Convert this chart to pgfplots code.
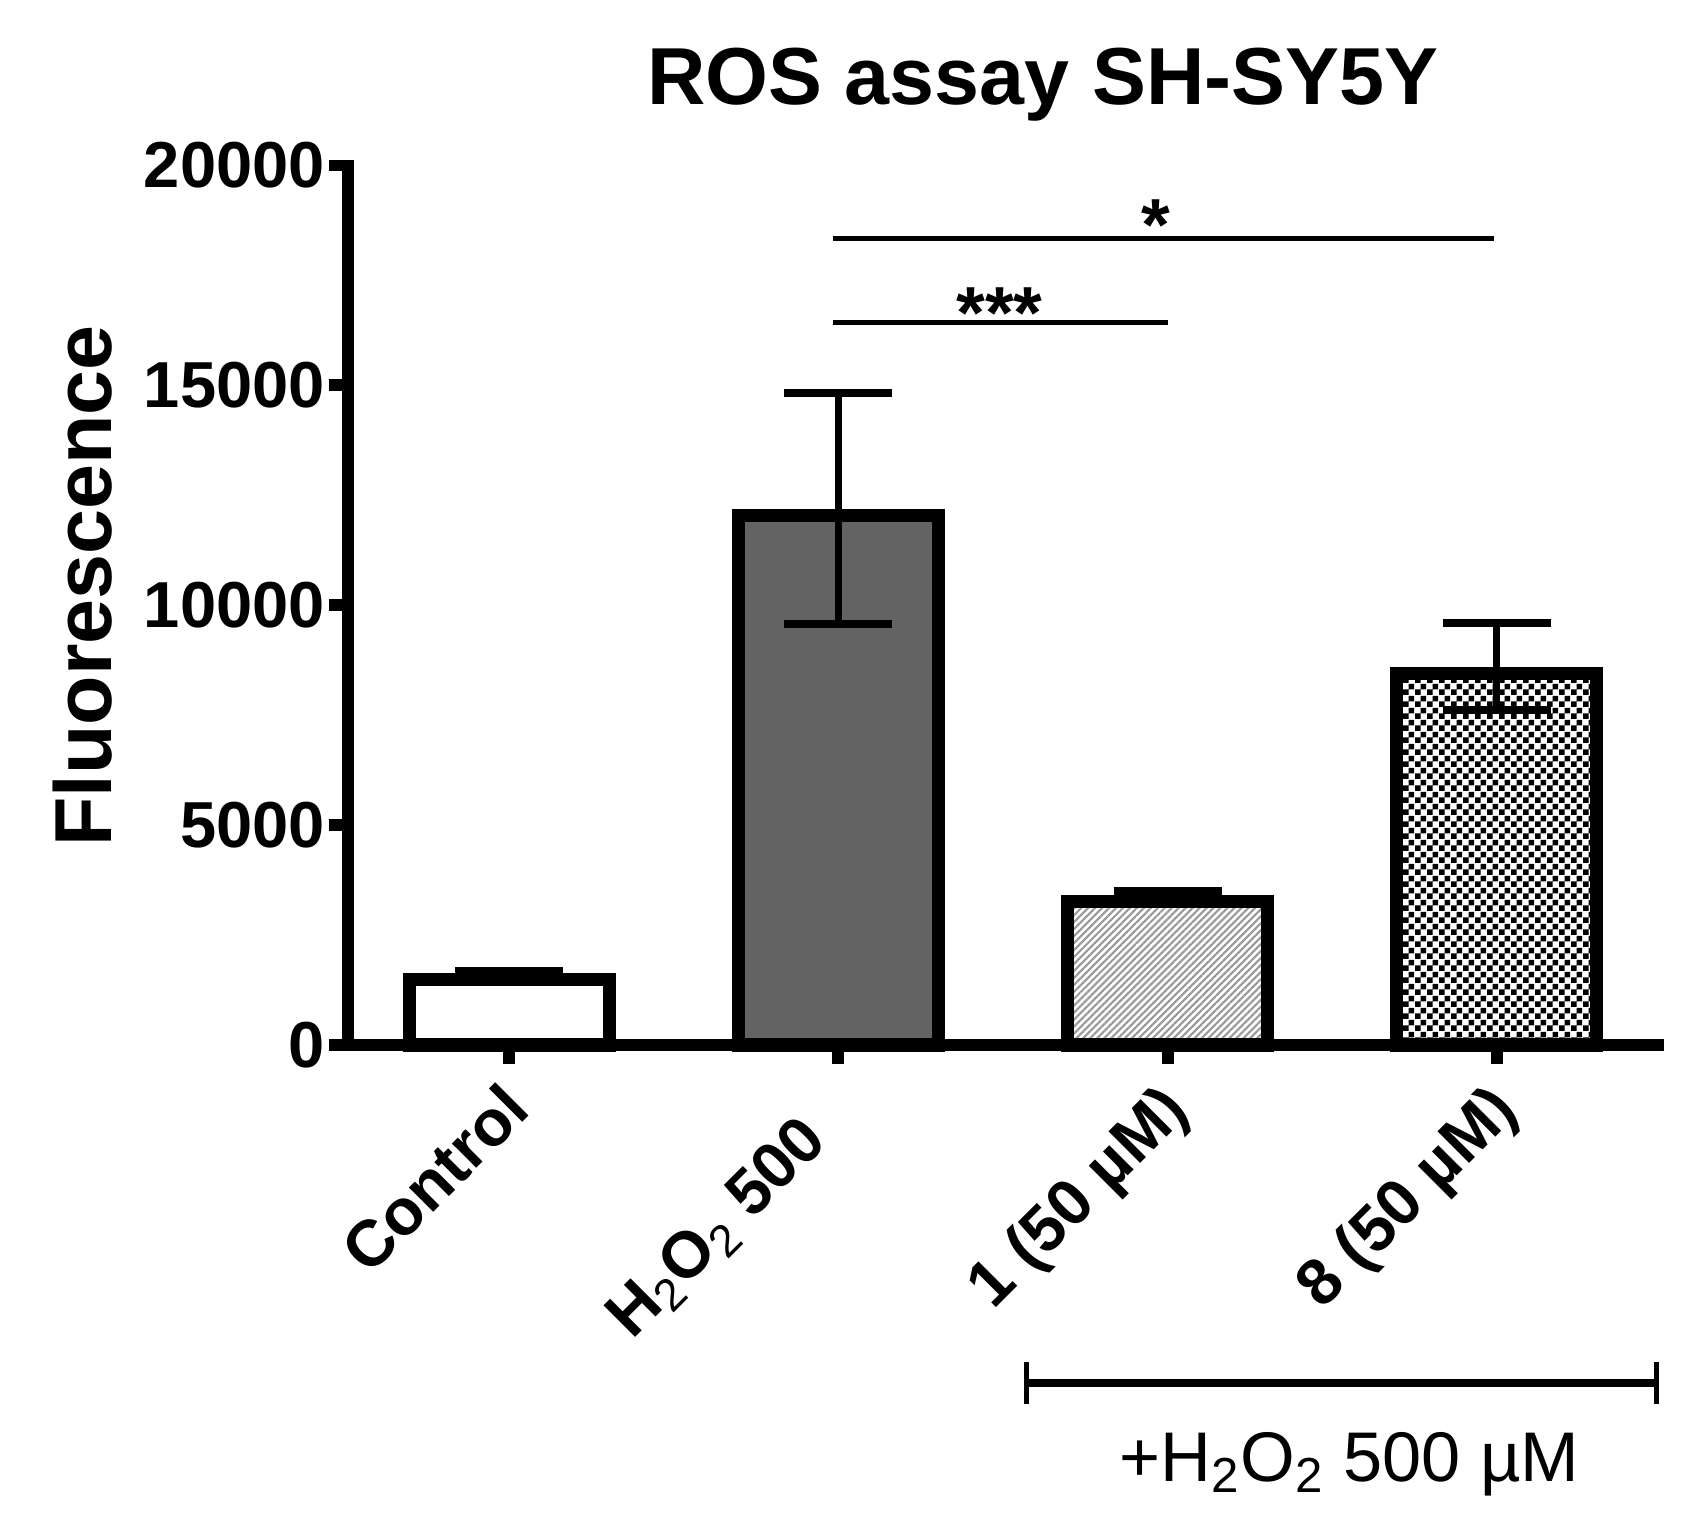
\documentclass[border=0pt]{standalone}
\usepackage{fontspec}
\setmainfont{Liberation Sans}
\usepackage{pgfplots}
\pgfplotsset{compat=1.18}
\usetikzlibrary{patterns,patterns.meta}
\pgfdeclarepatternformonly{checker}{\pgfpointorigin}{\pgfqpoint{3.3pt}{3.3pt}}{\pgfqpoint{3.3pt}{3.3pt}}{%
  \pgfpathrectangle{\pgfpointorigin}{\pgfqpoint{1.65pt}{1.65pt}}%
  \pgfpathrectangle{\pgfqpoint{1.65pt}{1.65pt}}{\pgfqpoint{1.65pt}{1.65pt}}%
  \pgfusepath{fill}}
\definecolor{darkbar}{gray}{0.39}
\begin{document}
\begin{tikzpicture}
\path[use as bounding box] (-34.8mm,-48.5mm) rectangle (134.6mm,104.5mm);
\begin{axis}[
  anchor=south west, at={(0,0)},
  scale only axis, width=131mm, height=87.95mm,
  xmin=-0.49, xmax=3.49, ymin=0, ymax=20000,
  scaled y ticks=false,
  axis x line*=bottom, axis y line*=left,
  axis line style={line width=3.4pt, -, line cap=rect},
  tick align=outside, major tick length=1.9mm,
  tick style={black, line width=3.4pt},
  xtick={0,1,2,3},
  xticklabels={Control, H\textsubscript{\mdseries 2}O\textsubscript{\mdseries 2} 500\hspace*{4.5mm}, 1 (50 µM), 8 (50 µM)},
  ytick={0,5000,10000,15000,20000},
  yticklabels={0,5000,10000,15000,20000},
  ticklabel style={font=\bfseries\fontsize{18.5}{22}\selectfont},
  yticklabel style={inner sep=1pt},
  xticklabel style={rotate=45, anchor=north east, inner sep=1pt, xshift=-1.4mm},
  clip=false,
]
\addplot[ybar, bar width=20mm, bar shift=0pt, fill=white, draw=black, line width=3.7pt, line join=miter] coordinates {(0,1492)};
\addplot[ybar, bar width=20mm, bar shift=0pt, fill=darkbar, draw=black, line width=3.7pt, line join=miter] coordinates {(1,12052)};
\addplot[ybar, bar width=20mm, bar shift=0pt, draw=black, line width=3.7pt, line join=miter, preaction={fill=white}, pattern={Lines[angle=45,distance=1.4pt,line width=0.6pt]}, pattern color=gray!80] coordinates {(2,3262)};
\addplot[ybar, bar width=20mm, bar shift=0pt, draw=black, line width=3.7pt, line join=miter, preaction={fill=white}, pattern=checker, pattern color=black] coordinates {(3,8452)};
\addplot[draw=none, mark=none,
  error bars/.cd, y dir=both, y explicit,
  error bar style={draw=black, line width=2pt},
  error mark options={draw=black, rotate=90, line width=2.2pt, mark size=5.4mm}]
  coordinates {(0,1640) +- (0,40) (1,12200) +- (0,2620) (2,3410) +- (0,90) (3,8600) +- (0,990)};
% significance lines
\draw[line width=1.4pt] (axis cs:0.984,18330) -- (axis cs:2.993,18330);
\draw[line width=1.4pt] (axis cs:0.984,16420) -- (axis cs:2.002,16420);
\node[font=\bfseries\fontsize{21}{24}\selectfont, anchor=base, yshift=-1.2mm] at (axis cs:1.963,18330) {*};
\node[font=\bfseries\fontsize{21}{24}\selectfont, anchor=base, yshift=-1.6mm] at (axis cs:1.489,16420) {***};
% bracket
\draw[line width=2pt] (axis cs:1.571,-7686) -- (axis cs:3.486,-7686);
\draw[line width=1.3pt] (axis cs:1.571,-7208) -- (axis cs:1.571,-8164);
\draw[line width=1.3pt] (axis cs:3.486,-7208) -- (axis cs:3.486,-8164);
\node[font=\fontsize{20}{24}\selectfont, anchor=base] at (axis cs:2.553,-9937) {+H\textsubscript{2}O\textsubscript{2} 500 µM};
% title and y label
\node[font=\bfseries\fontsize{23}{28}\selectfont, anchor=base] at (axis cs:1.621,21380) {ROS assay SH-SY5Y};
\node[font=\bfseries\fontsize{23}{28}\selectfont, anchor=base, rotate=90] at (axis cs:-1.21,10438) {Fluorescence};
\end{axis}
\end{tikzpicture}
\end{document}
